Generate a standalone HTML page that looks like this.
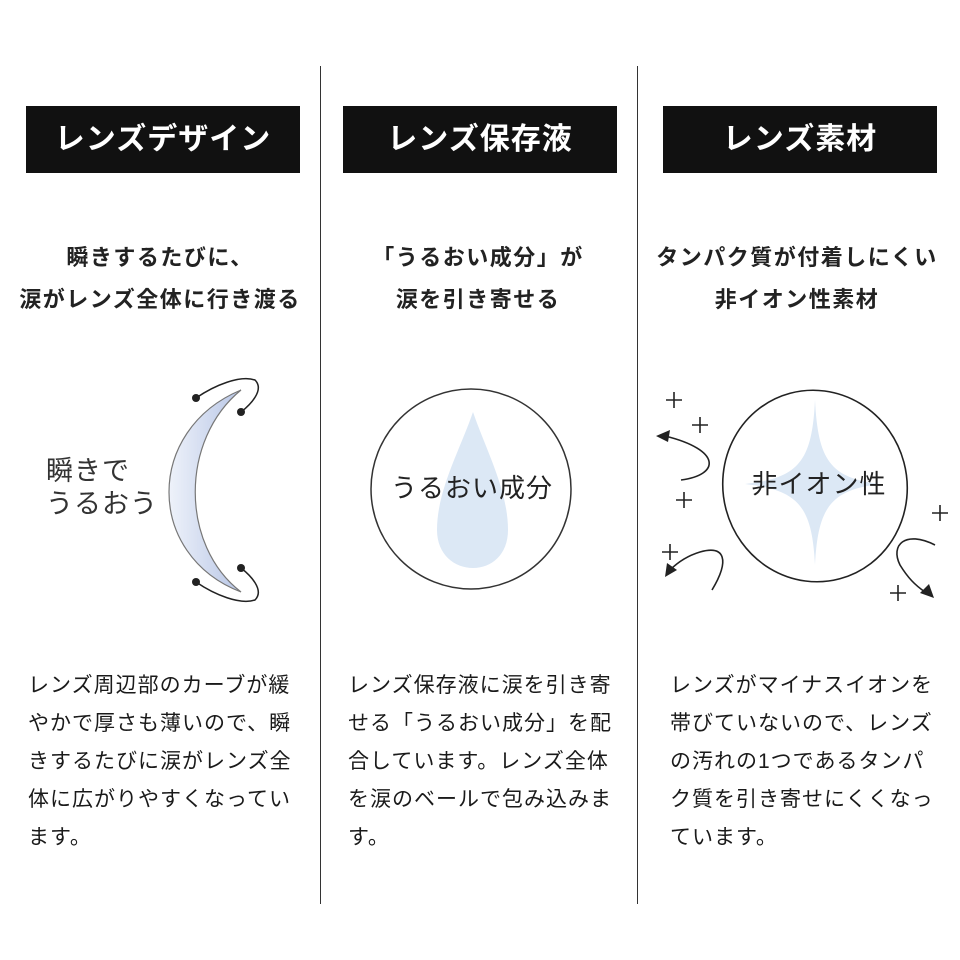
<!DOCTYPE html>
<html><head><meta charset="utf-8"><style>
body{margin:0;width:960px;height:960px;background:#fff;position:relative;overflow:hidden;font-family:"Liberation Sans","Noto Sans CJK JP",sans-serif;color:#222}
.hd{position:absolute;top:106px;height:67px;background:#111;color:#fff;font-weight:bold;font-size:30px;line-height:67px;text-align:center;letter-spacing:1px}
.sub{position:absolute;top:237px;font-weight:bold;font-size:22px;line-height:42px;text-align:center;width:320px;letter-spacing:1.5px;white-space:nowrap}
.bd{position:absolute;top:667px;font-size:21px;line-height:38px;width:300px;letter-spacing:1px;white-space:nowrap;color:#1a1a1a}
.vl{position:absolute;top:66px;height:838px;width:1px;background:#333}
svg{position:absolute;left:0;top:0}
</style></head><body>
<div class="vl" style="left:320px"></div>
<div class="vl" style="left:637px"></div>
<div class="hd" style="left:26px;width:274px">レンズデザイン</div>
<div class="hd" style="left:343px;width:274px">レンズ保存液</div>
<div class="hd" style="left:663px;width:274px">レンズ素材</div>
<div class="sub" style="left:0">瞬きするたびに、<br>涙がレンズ全体に行き渡る</div>
<div class="sub" style="left:318px">「うるおい成分」が<br>涙を引き寄せる</div>
<div class="sub" style="left:637px;width:320px">タンパク質が付着しにくい<br>非イオン性素材</div>
<div class="bd" style="left:28px">レンズ周辺部のカーブが緩<br>やかで厚さも薄いので、瞬<br>きするたびに涙がレンズ全<br>体に広がりやすくなってい<br>ます。</div>
<div class="bd" style="left:348px">レンズ保存液に涙を引き寄<br>せる「うるおい成分」を配<br>合しています。レンズ全体<br>を涙のベールで包み込みま<br>す。</div>
<div class="bd" style="left:670px">レンズがマイナスイオンを<br>帯びていないので、レンズ<br>の汚れの1つであるタンパ<br>ク質を引き寄せにくくなっ<br>ています。</div>
<svg width="960" height="960" viewBox="0 0 960 960">
<defs><linearGradient id="g" x1="0" x2="1"><stop offset="0" stop-color="#eef2fa"/><stop offset="1" stop-color="#b8c6e6"/></linearGradient></defs>
<path d="M241,390 C145,430 145,555 241,592 C180,545 180,440 241,390 Z" fill="url(#g)" stroke="#777" stroke-width="1.2"/>
<g fill="none" stroke="#222" stroke-width="1.5">
<path d="M196,398 C215,385 240,375 255,380 C265,390 250,405 241,412"/>
<path d="M196,582 C215,595 240,605 255,600 C265,590 250,575 241,568"/>
</g>
<g fill="#222"><circle cx="196" cy="398" r="4"/><circle cx="241" cy="412" r="4"/><circle cx="196" cy="582" r="4"/><circle cx="241" cy="568" r="4"/></g>
<g font-size="27" fill="#333" letter-spacing="1" font-family="Liberation Sans,Noto Sans CJK JP,sans-serif">
<text x="46" y="480">瞬きで</text>
<text x="46" y="513">うるおう</text></g>
<circle cx="471" cy="489" r="100" fill="none" stroke="#333" stroke-width="1.5"/>
<path d="M473,412 C460,450 437,490 437,530 C437,555 455,568 473,568 C491,568 508,555 508,530 C508,490 486,450 473,412 Z" fill="#dce8f5"/>
<text x="472" y="497" font-size="26" letter-spacing="1" text-anchor="middle" fill="#222" font-family="Liberation Sans,Noto Sans CJK JP,sans-serif">うるおい成分</text>
<ellipse cx="815" cy="486" rx="92" ry="96" transform="rotate(-15 815 486)" fill="none" stroke="#222" stroke-width="1.6"/>
<path d="M815,400 C818,460 830,478 880,484 C830,490 818,508 815,565 C812,508 800,490 745,484 C800,478 812,460 815,400 Z" fill="#dce8f5"/>
<text x="819" y="493" font-size="26" letter-spacing="1" text-anchor="middle" fill="#222" font-family="Liberation Sans,Noto Sans CJK JP,sans-serif">非イオン性</text>
<g stroke="#222" stroke-width="1.6" fill="none">
<path d="M666,400h16M674,392v16"/><path d="M692,425h16M700,417v16"/><path d="M676,500h16M684,492v16"/>
<path d="M662,552h16M670,544v16"/><path d="M932,513h16M940,505v16"/><path d="M890,593h16M898,585v16"/>
<path d="M681,480 C720,475 722,450 665,436"/>
<path d="M712,590 C730,560 725,545 700,552 C690,555 680,560 670,570"/>
<path d="M935,545 C905,530 890,545 900,565 C908,578 915,585 925,592"/>
</g>
<g fill="#222">
<path d="M656,436 L670,430 L668,442 Z"/>
<path d="M665,577 L667,563 L677,570 Z"/>
<path d="M934,598 L920,593 L929,584 Z"/>
</g>
</svg>
</body></html>
